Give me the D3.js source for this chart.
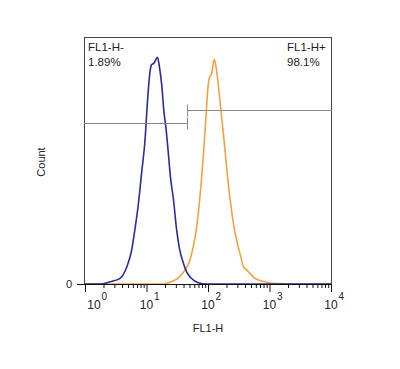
<!DOCTYPE html>
<html><head><meta charset="utf-8">
<script src="https://cdn.jsdelivr.net/npm/d3@7"></script>
<style>
body{margin:0;background:#fff;}
text{font-family:Arial,"Liberation Sans",sans-serif;fill:#222;}
</style></head>
<body>
<svg id="chart" width="400" height="369"></svg>
<script>
// FL1-H channel values and counts (count as % of the plot height)
const blueFL1 = [1, 1.86, 2.57, 3.72, 4.79, 5.75, 6.46, 7.41, 8.32, 9.55, 10.0, 10.7, 11.5, 12.0, 13.2, 14.1, 15.1, 16.2, 17.8, 19.1, 20.9, 22.4, 24.5, 27.5, 30.9, 34.7, 39.8, 44.7, 53.7, 69.2, 95.5, 10000];
const blueCount = [0, 0, 0.9, 2.3, 7.0, 13.8, 21.9, 32.8, 44.9, 59.6, 67.7, 78.5, 86.6, 88.7, 89.4, 90.7, 91.8, 88.0, 79.9, 70.4, 62.3, 54.3, 43.4, 34.0, 21.9, 13.8, 8.4, 5.0, 2.3, 0.5, 0, 0];
const orangeFL1 = [1, 18.6, 21.4, 27.4, 34.9, 42.3, 51.0, 57.5, 65.6, 72.2, 79.1, 86.0, 92.8, 98.9, 105, 115, 122, 126, 135, 144, 156, 173, 189, 208, 233, 264, 300, 341, 376, 425, 481, 580, 747, 957, 1150, 1490, 2150, 10000];
const orangeCount = [0, 0, 0.3, 1.3, 3.0, 5.7, 9.7, 15.1, 23.2, 32.7, 43.4, 55.6, 67.7, 78.5, 83.3, 85.3, 89.4, 91.0, 88.0, 82.6, 74.5, 63.7, 54.3, 43.4, 32.7, 23.2, 16.5, 11.1, 7.0, 5.7, 4.3, 2.3, 1.2, 0.5, 0.3, 0.2, 0, 0];
const majorTicks = [1, 10, 100, 1000, 10000];
const tickExponents = ["0", "1", "2", "3", "4"];
const gateBoundary = 45.7;
const gateNegLabel = ["FL1-H-", "1.89%"];
const gatePosLabel = ["FL1-H+", "98.1%"];
const gateNegLevel = 65;   // count level of the gate line
const gatePosLevel = 70.4;

const svg = d3.select("#chart");
const pL = 84, pR = 332, pT = 37, pB = 284;

const x = d3.scaleLog().domain([1, 10000]).range([85, 331]);
const y = d3.scaleLinear().domain([0, 100]).range([pB, pT]);

// minor ticks
const minor = [];
for (let d = 1; d < 10000; d *= 10) for (let k = 2; k <= 9; k++) minor.push(d * k);

// frame
svg.append("rect").attr("x", pL + 0.5).attr("y", pT + 0.5)
  .attr("width", pR - pL - 1).attr("height", pB - pT)
  .attr("fill", "none").attr("stroke", "#444").attr("stroke-width", 1);

// curves
const line = d3.line().x(d => x(d[0])).y(d => y(d[1])).curve(d3.curveMonotoneX);
svg.append("path").datum(d3.zip(orangeFL1, orangeCount))
  .attr("d", line).attr("fill", "none").attr("stroke", "#f2a23e").attr("stroke-width", 1.6);
svg.append("path").datum(d3.zip(blueFL1, blueCount))
  .attr("d", line).attr("fill", "none").attr("stroke", "#2b2b9c").attr("stroke-width", 1.6);

// x axis
const gx = svg.append("g").attr("transform", `translate(0,${pB})`);
gx.call(d3.axisBottom(x).tickValues(minor).tickSize(4).tickFormat(""))
  .call(g => g.select(".domain").remove());
const gx2 = svg.append("g").attr("transform", `translate(0,${pB})`);
gx2.call(d3.axisBottom(x).tickValues(majorTicks).tickSize(8).tickFormat(""))
  .call(g => g.select(".domain").remove());
svg.selectAll(".tick line").attr("stroke", "#111");
svg.append("line").attr("x1", 77).attr("x2", pR).attr("y1", pB + 0.5).attr("y2", pB + 0.5)
  .attr("stroke", "#111");

// x tick labels
majorTicks.forEach((v, i) => {
  const cx = x(v) + (i === 0 ? 9 : 0);
  svg.append("text").attr("x", cx).attr("y", 309).attr("text-anchor", "middle")
    .attr("font-size", 12).text("10");
  svg.append("text").attr("x", cx + 7.5).attr("y", 300).attr("text-anchor", "start")
    .attr("font-size", 10).text(tickExponents[i]);
});

// y axis "0"
svg.append("text").attr("x", 72).attr("y", pB).attr("dy", "0.35em")
  .attr("text-anchor", "end").attr("font-size", 11).text("0");

// axis titles
svg.append("text").attr("x", 208).attr("y", 332).attr("text-anchor", "middle")
  .attr("font-size", 11).text("FL1-H");
svg.append("text").attr("transform", "translate(45,162) rotate(-90)")
  .attr("text-anchor", "middle").attr("font-size", 11).text("Count");

// gates
const gx0 = x(gateBoundary);
function gate(x1, x2, lvl, tickX) {
  const yy = Math.round(y(lvl)) + 0.5;
  svg.append("line").attr("x1", x1).attr("x2", x2).attr("y1", yy).attr("y2", yy)
    .attr("stroke", "#888").attr("stroke-width", 1);
  svg.append("line").attr("x1", tickX).attr("x2", tickX).attr("y1", yy - 6).attr("y2", yy + 6)
    .attr("stroke", "#888").attr("stroke-width", 1);
}
gate(pL, gx0, gateNegLevel, Math.round(gx0) + 0.5);
gate(gx0, pR, gatePosLevel, Math.round(gx0) + 0.5);

// gate labels
svg.append("text").attr("x", 88).attr("y", 51).attr("font-size", 11.5).text(gateNegLabel[0]);
svg.append("text").attr("x", 88).attr("y", 66).attr("font-size", 11.5).text(gateNegLabel[1]);
svg.append("text").attr("x", 287).attr("y", 51).attr("font-size", 11.5).text(gatePosLabel[0]);
svg.append("text").attr("x", 287).attr("y", 66).attr("font-size", 11.5).text(gatePosLabel[1]);
</script>
</body></html>
